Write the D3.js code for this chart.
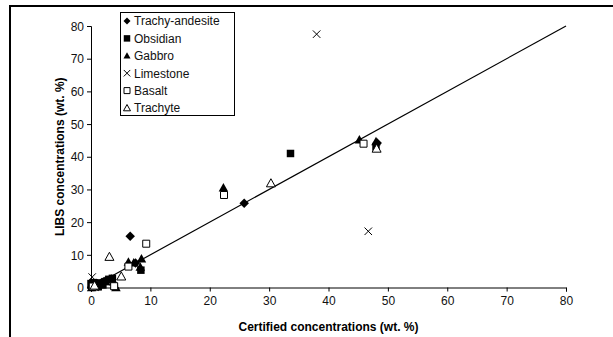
<!DOCTYPE html>
<html><head><meta charset="utf-8">
<script src="https://cdn.jsdelivr.net/npm/d3@7"></script>
<style>body{margin:0;background:#fff}svg{display:block}</style>
</head><body>
<script>
const seriesNames = ["Trachy-andesite","Obsidian","Gabbro","Limestone","Basalt","Trachyte"];
const trachyAndesite = [[6.6,15.7],[25.8,25.8],[48.2,44.2],[0.3,0.5],[1,1.2],[1.8,1.5],[0.5,0.2],[3.5,2.5],[7.5,7.5],[0.1,0.1],[2.2,1.8],[1.2,0.3]];
const obsidian = [[33.6,41],[48,43],[8.4,5.3],[0.2,0.3],[0.8,0.6],[1.5,1.4],[2.5,1.8],[3.6,2.8],[0,1.2],[0.4,1.5],[1.2,0.2],[3,2.5],[2,0.8]];
const gabbro = [[22.3,30.5],[45.2,45.2],[48,44.7],[8.5,8.8],[6.3,7.8],[7.2,7.6],[8.3,6.3],[4.2,0],[3.8,1.8],[0.6,0.8],[1.6,0.9],[0.1,0],[2.4,2],[3.4,2.6],[4,0.6]];
const limestone = [[38,77.5],[46.7,17.2],[0.2,3.2],[0.5,0.8],[1.2,0.4]];
const basalt = [[22.4,28.3],[45.9,44],[9.3,13.4],[6.3,6.4],[3.9,0.4],[0.3,0.3]];
const trachyte = [[30.3,31.9],[48.1,42.5],[3.1,9.4],[5.1,3.4],[0.6,0.6]];
const xTicks = [0,10,20,30,40,50,60,70,80];
const yTicks = [0,10,20,30,40,50,60,70,80];
const fitLine = [[0,0],[80,80]];

const W=613,H=337;
const svg=d3.select("body").append("svg").attr("width",W).attr("height",H);
const font="Liberation Sans, Arial, sans-serif";

// frame
svg.append("line").attr("x1",9).attr("x2",W).attr("y1",6).attr("y2",6).attr("stroke","#000").attr("stroke-width",2);
svg.append("line").attr("x1",10).attr("x2",10).attr("y1",5).attr("y2",H).attr("stroke","#000").attr("stroke-width",2);

const x=d3.scaleLinear().domain([0,80]).range([91,566]);
const y=d3.scaleLinear().domain([0,80]).range([287.5,26]);

const xa=svg.append("g").attr("transform","translate(0,287.5)").call(d3.axisBottom(x).tickValues(xTicks).tickSize(4).tickSizeOuter(4).tickPadding(5));
const ya=svg.append("g").attr("transform","translate(91,0)").call(d3.axisLeft(y).tickValues(yTicks).tickSize(4).tickSizeOuter(4).tickPadding(3));
[xa,ya].forEach(a=>{a.selectAll("text").attr("font-family",font).attr("font-size",12).attr("fill","#111");
  a.selectAll("path,line").attr("stroke","#000");});
ya.selectAll("text").attr("dy","0.35em");

svg.append("text").attr("x",x(40)).attr("y",331).attr("text-anchor","middle").attr("font-family",font).attr("font-size",12).attr("font-weight","bold").text("Certified concentrations (wt. %)");
svg.append("text").attr("transform",`translate(64,${y(40)}) rotate(-90)`).attr("text-anchor","middle").attr("font-family",font).attr("font-size",12).attr("font-weight","bold").text("LIBS concentrations (wt. %)");

// line
svg.append("path").datum(fitLine).attr("d",d3.line().x(d=>x(d[0])).y(d=>y(d[1]))).attr("fill","none").attr("stroke","#000").attr("stroke-width",1.2);

// symbols
const diamond={draw(c,s){const r=Math.sqrt(s)/2;c.moveTo(0,-r);c.lineTo(r,0);c.lineTo(0,r);c.lineTo(-r,0);c.closePath();}};
const square={draw(c,s){const r=Math.sqrt(s)/2;c.rect(-r,-r,2*r,2*r);}};
const tri={draw(c,s){const r=Math.sqrt(s)/2;c.moveTo(0,-r);c.lineTo(r,r*0.8);c.lineTo(-r,r*0.8);c.closePath();}};
const cross={draw(c,s){const r=Math.sqrt(s)/2;c.moveTo(-r,-r);c.lineTo(r,r);c.moveTo(r,-r);c.lineTo(-r,r);}};
const styles=[
 {data:trachyAndesite,type:diamond,size:90,fill:"#000",stroke:"none"},
 {data:obsidian,type:square,size:56,fill:"#000",stroke:"none"},
 {data:gabbro,type:tri,size:90,fill:"#000",stroke:"none"},
 {data:limestone,type:cross,size:56,fill:"none",stroke:"#000"},
 {data:basalt,type:square,size:49,fill:"#fff",stroke:"#000"},
 {data:trachyte,type:tri,size:81,fill:"#fff",stroke:"#000"}
];
const plot=svg.append("g");
styles.forEach(st=>{
  plot.selectAll(null).data(st.data).enter().append("path")
   .attr("transform",d=>`translate(${x(d[0])},${y(d[1])})`)
   .attr("d",d3.symbol().type(st.type).size(st.size))
   .attr("fill",st.fill).attr("stroke",st.stroke).attr("stroke-width",1);
});

// legend
const lg=svg.append("g");
lg.append("rect").attr("x",120.5).attr("y",12.5).attr("width",114).attr("height",103).attr("fill","#fff").attr("stroke","#000").attr("stroke-width",1);
const legSizes=[49,42,49,42,36,49];
seriesNames.forEach((n,i)=>{
  const cy=21+i*17.4;
  const st=styles[i];
  lg.append("path").attr("transform",`translate(127,${cy})`).attr("d",d3.symbol().type(st.type).size(legSizes[i]))
    .attr("fill",st.fill).attr("stroke",st.stroke).attr("stroke-width",1);
  lg.append("text").attr("x",134).attr("y",cy).attr("dy","0.36em").attr("font-family",font).attr("font-size",12).attr("fill","#111").text(n);
});
</script>
</body></html>
